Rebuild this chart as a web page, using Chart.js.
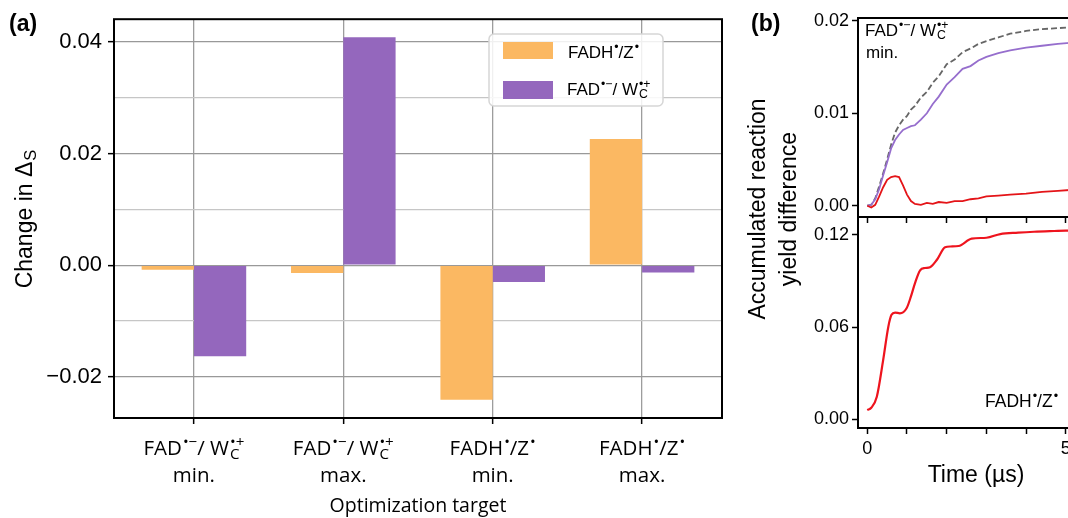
<!DOCTYPE html>
<html>
<head>
<meta charset="utf-8">
<script src="https://cdn.jsdelivr.net/npm/chart.js@4.4.1/dist/chart.umd.min.js"></script>
<style>
  html, body { margin: 0; padding: 0; background: #fff; overflow: hidden; }
  #wrap { position: relative; width: 1068px; height: 518px; overflow: hidden; }
  canvas { position: absolute; }
</style>
</head>
<body>
<div id="wrap">
  <canvas id="chartA" width="740" height="518" style="left:0;top:0"></canvas>
  <canvas id="chartTop" width="360" height="340" style="left:740px;top:0"></canvas>
  <canvas id="chartBottom" width="360" height="318" style="left:740px;top:200px"></canvas>
</div>
<script>
// (a) change in singlet yield per optimisation target
const species = ['fadW', 'fadW', 'fadhZ', 'fadhZ'];
const goals = ['min.', 'max.', 'min.', 'max.'];
const fadhZValues = [-0.0008, -0.0014, -0.0241, 0.0226];
const fadWValues = [-0.0163, 0.0408, -0.0030, -0.0013];
const yTickStepA = 0.01;   // major labels every 0.02

// (b) accumulated reaction yield difference, time in µs
const timeTop = [0, 0.1, 0.2, 0.3, 0.4, 0.5, 0.6, 0.7, 0.8, 0.9, 1.0, 1.1, 1.2, 1.35, 1.5, 1.65, 1.8, 2.0, 2.2, 2.4, 2.6, 2.8, 3.0, 3.3, 3.6, 4.0, 4.4, 4.8, 5.1];
const totalTop = [0, 0.0001, 0.0008, 0.0021, 0.0035, 0.005, 0.0066, 0.0079, 0.0087, 0.0093, 0.0097, 0.0104, 0.0108, 0.0117, 0.0123, 0.0133, 0.0140, 0.0153, 0.0158, 0.0166, 0.0170, 0.0175, 0.0178, 0.0182, 0.0186, 0.0189, 0.0191, 0.0192, 0.0193];
const wTop = [0, 0.0001, 0.0007, 0.0018, 0.0033, 0.0047, 0.0062, 0.0071, 0.0077, 0.0082, 0.0084, 0.0086, 0.0087, 0.0093, 0.0100, 0.0110, 0.0118, 0.0131, 0.0139, 0.0148, 0.0151, 0.0157, 0.0161, 0.0165, 0.0168, 0.0171, 0.0173, 0.0175, 0.0176];
const diffTop = [0, -0.0002, 0.0001, 0.001, 0.002, 0.0028, 0.0031, 0.0032, 0.0031, 0.0022, 0.0012, 0.0005, 0.0002, 0.0001, 0.0003, 0.0002, 0.0004, 0.0003, 0.0005, 0.0005, 0.0007, 0.0008, 0.0010, 0.0011, 0.0012, 0.0013, 0.0015, 0.0016, 0.0017];
const timeBottom = [0, 0.1, 0.24, 0.4, 0.53, 0.61, 0.7, 0.82, 0.99, 1.1, 1.2, 1.33, 1.45, 1.58, 1.75, 1.96, 2.1, 2.3, 2.63, 3.0, 3.35, 3.8, 4.2, 4.6, 5.0, 5.1];
const fadhBottom = [0.006, 0.0075, 0.0147, 0.0386, 0.0603, 0.068, 0.0695, 0.069, 0.0723, 0.080, 0.0885, 0.097, 0.0985, 0.099, 0.1037, 0.112, 0.1125, 0.1128, 0.1176, 0.1182, 0.1206, 0.1215, 0.1221, 0.1225, 0.1228, 0.1228];

const orange = 'rgb(251,184,98)';
const purple = 'rgb(148,103,189)';
const black = '#000';

const fadWLabel = [{ t: 'FAD' }, { sup: '•−' }, { t: '/ W' }, { sub: 'C', sup: '•+' }];
const fadhZLabel = [{ t: 'FADH' }, { sup: '•' }, { t: '/Z' }, { sup: '•' }];
const speciesLabels = { fadW: fadWLabel, fadhZ: fadhZLabel };

// text with super/subscripts, drawn piece by piece
function drawRich(ctx, parts, x, y, size, family, align, scale) {
  const small = size * (scale || 0.68);
  const fontN = size + 'px "' + family + '"';
  const fontS = small + 'px "' + family + '"';
  const widths = parts.map(p => {
    if (p.t !== undefined) { ctx.font = fontN; return ctx.measureText(p.t).width; }
    ctx.font = fontS;
    return Math.max(p.sub ? ctx.measureText(p.sub).width : 0, p.sup ? ctx.measureText(p.sup).width : 0) + 1;
  });
  const total = widths.reduce((a, b) => a + b, 0);
  let cx = align === 'center' ? x - total / 2 : (align === 'right' ? x - total : x);
  ctx.textAlign = 'left';
  ctx.textBaseline = 'alphabetic';
  parts.forEach((p, i) => {
    if (p.t !== undefined) {
      ctx.font = fontN;
      ctx.fillText(p.t, cx, y);
    } else {
      ctx.font = fontS;
      if (p.sup) ctx.fillText(p.sup, cx + 1, y - size * 0.4);
      if (p.sub) ctx.fillText(p.sub, cx + 1, y + size * 0.18);
    }
    cx += widths[i];
  });
}

function isMajor(v, step) {
  return Math.abs(Math.round(v / step) * step - v) < 1e-9;
}
function fmt(v, d) {
  if (Math.abs(v) < 1e-12) v = 0;
  const s = Math.abs(v).toFixed(d);
  return v < 0 ? '\u2212' + s : s;
}

const panelA = {
  id: 'panelA',
  afterDraw(chart) {
    const { ctx, chartArea: a, scales } = chart;
    ctx.save();
    ctx.strokeStyle = black;
    ctx.lineWidth = 2;
    ctx.strokeRect(a.left, a.top, a.right - a.left, a.bottom - a.top);
    ctx.fillStyle = black;

    // category labels
    species.forEach((sp, i) => {
      const px = scales.x.getPixelForValue(i);
      drawRich(ctx, speciesLabels[sp], px, 455, 20.5, 'Open Sans', 'center', 0.74);
      ctx.font = '20.5px "Open Sans"';
      ctx.textAlign = 'center';
      ctx.fillText(goals[i], px, 482);
    });
    ctx.font = '19.5px "Open Sans"';
    ctx.textAlign = 'center';
    ctx.fillText('Optimization target', (a.left + a.right) / 2, 512);

    // y title
    ctx.save();
    ctx.translate(32, 219);
    ctx.rotate(-Math.PI / 2);
    drawRich(ctx, [{ t: 'Change in Δ' }, { sub: 'S' }], 0, 0, 23, 'Liberation Sans', 'center', 0.72);
    ctx.restore();

    ctx.font = 'bold 23px "Liberation Sans"';
    ctx.textAlign = 'left';
    ctx.fillText('(a)', 9, 31);

    // legend
    ctx.beginPath();
    ctx.roundRect(489, 34, 174, 72, 5);
    ctx.fillStyle = 'rgba(255,255,255,0.85)';
    ctx.fill();
    ctx.strokeStyle = '#d6d6d6';
    ctx.lineWidth = 1.5;
    ctx.stroke();
    ctx.fillStyle = orange;
    ctx.fillRect(503, 42, 50, 17);
    ctx.fillStyle = purple;
    ctx.fillRect(503, 81, 50, 18);
    ctx.fillStyle = black;
    drawRich(ctx, fadhZLabel, 568, 58, 17, 'Liberation Sans', 'left', 0.72);
    drawRich(ctx, fadWLabel, 567, 95, 17, 'Liberation Sans', 'left', 0.72);
    ctx.restore();
  }
};

new Chart(document.getElementById('chartA'), {
  type: 'bar',
  data: {
    datasets: [
      { label: 'FADH•/Z•', data: fadhZValues.map((v, i) => ({ x: i, y: v })), backgroundColor: orange },
      { label: 'FAD•−/ W•+', data: fadWValues.map((v, i) => ({ x: i, y: v })), backgroundColor: purple }
    ]
  },
  options: {
    responsive: false,
    animation: false,
    layout: { padding: { left: 0, top: 16, right: 18, bottom: 0 } },
    datasets: { bar: { barPercentage: 1, categoryPercentage: 0.7 } },
    plugins: { legend: { display: false }, tooltip: { enabled: false } },
    scales: {
      x: {
        type: 'linear', min: -0.535, max: 3.535, offset: false, z: 1,
        grid: { offset: false, color: '#9d9d9d', lineWidth: 1.3, tickColor: black, tickWidth: 1.5, tickLength: 6 },
        border: { display: false },
        ticks: { stepSize: 1, includeBounds: false, display: false, autoSkip: false },
        afterFit(s) { s.height = 100; }
      },
      y: {
        min: -0.02735, max: 0.04405, z: 1, beginAtZero: false,
        grid: {
          color: c => isMajor(c.tick.value, 0.02) ? '#999' : '#c6c6c6',
          lineWidth: 1.3,
          tickColor: c => isMajor(c.tick.value, 0.02) ? black : 'rgba(0,0,0,0)',
          tickWidth: 1.5, tickLength: 6
        },
        border: { display: false },
        ticks: {
          stepSize: yTickStepA, includeBounds: false, autoSkip: false,
          color: black, padding: 6,
          font: { family: 'Liberation Sans', size: 22 },
          callback: v => isMajor(v, 0.02) ? fmt(v, 2) : ''
        },
        afterFit(s) { s.width = 114; }
      }
    }
  },
  plugins: [panelA]
});

// (b) shared pieces
function frame(chart) {
  const { ctx, chartArea: a } = chart;
  ctx.save();
  ctx.strokeStyle = black;
  ctx.lineWidth = 2;
  ctx.strokeRect(a.left, a.top, a.right - a.left, a.bottom - a.top);
  ctx.restore();
}
const timeAxis = (labels, height) => ({
  type: 'linear', min: -0.234, max: 5.232,
  grid: { drawOnChartArea: false, tickColor: black, tickWidth: 1.5, tickLength: 6 },
  border: { display: false },
  ticks: {
    stepSize: 1, includeBounds: false, autoSkip: false, maxRotation: 0,
    display: labels, color: black, padding: 4,
    font: { family: 'Liberation Sans', size: 18 },
    callback: v => v % 5 === 0 ? String(v) : ''
  },
  afterFit(s) { s.height = height; }
});
const yieldAxis = (min, max, step) => ({
  min, max,
  grid: { drawOnChartArea: false, tickColor: black, tickWidth: 1.5, tickLength: 6 },
  border: { display: false },
  ticks: {
    stepSize: step, includeBounds: false, autoSkip: false, color: black, padding: 3,
    font: { family: 'Liberation Sans', size: 18 },
    callback: v => fmt(v, 2)
  },
  afterFit(s) { s.width = 118; }
});

const panelTop = {
  id: 'panelTop',
  afterDraw(chart) {
    frame(chart);
    const ctx = chart.ctx;
    ctx.save();
    ctx.fillStyle = black;
    drawRich(ctx, fadWLabel, 125, 36, 17, 'Liberation Sans', 'left', 0.72);
    ctx.font = '17px "Liberation Sans"';
    ctx.fillText('min.', 126, 58);
    ctx.font = 'bold 23px "Liberation Sans"';
    ctx.fillText('(b)', 11, 31);
    ctx.font = '23px "Liberation Sans"';
    ctx.textAlign = 'center';
    ctx.save();
    ctx.translate(25, 209);
    ctx.rotate(-Math.PI / 2);
    ctx.fillText('Accumulated reaction', 0, 0);
    ctx.fillText('yield difference', 0, 31);
    ctx.restore();
    ctx.restore();
  }
};

new Chart(document.getElementById('chartTop'), {
  type: 'line',
  data: {
    labels: timeTop,
    datasets: [
      { data: diffTop, borderColor: 'rgb(228,20,24)', borderWidth: 1.8 },
      { data: wTop, borderColor: 'rgb(150,110,205)', borderWidth: 1.8 },
      { data: totalTop, borderColor: '#666', borderWidth: 1.8, borderDash: [6, 3] }
    ]
  },
  options: {
    responsive: false,
    animation: false,
    elements: { point: { radius: 0 }, line: { tension: 0 } },
    layout: { padding: { left: 0, top: 18, right: 25, bottom: 99.5 } },
    plugins: { legend: { display: false }, tooltip: { enabled: false } },
    scales: {
      x: timeAxis(false, 23.5),
      y: yieldAxis(-0.00122, 0.0203, 0.01)
    }
  },
  plugins: [panelTop]
});

const panelBottom = {
  id: 'panelBottom',
  afterDraw(chart) {
    frame(chart);
    const ctx = chart.ctx;
    ctx.save();
    ctx.fillStyle = black;
    drawRich(ctx, fadhZLabel, 245, 207, 17.5, 'Liberation Sans', 'left', 0.72);
    ctx.font = '23px "Liberation Sans"';
    ctx.textAlign = 'center';
    ctx.fillText('Time (µs)', 236, 282);
    ctx.restore();
  }
};

new Chart(document.getElementById('chartBottom'), {
  type: 'line',
  data: {
    labels: timeBottom,
    datasets: [
      { data: fadhBottom, borderColor: 'rgb(238,20,30)', borderWidth: 2.2 }
    ]
  },
  options: {
    responsive: false,
    animation: false,
    elements: { point: { radius: 0 }, line: { tension: 0.35, cubicInterpolationMode: 'monotone' } },
    layout: { padding: { left: 0, top: 17, right: 25, bottom: 0 } },
    plugins: { legend: { display: false }, tooltip: { enabled: false } },
    scales: {
      x: timeAxis(true, 90),
      y: yieldAxis(-0.00566, 0.1317, 0.06)
    }
  },
  plugins: [panelBottom]
});
</script>
</body>
</html>
